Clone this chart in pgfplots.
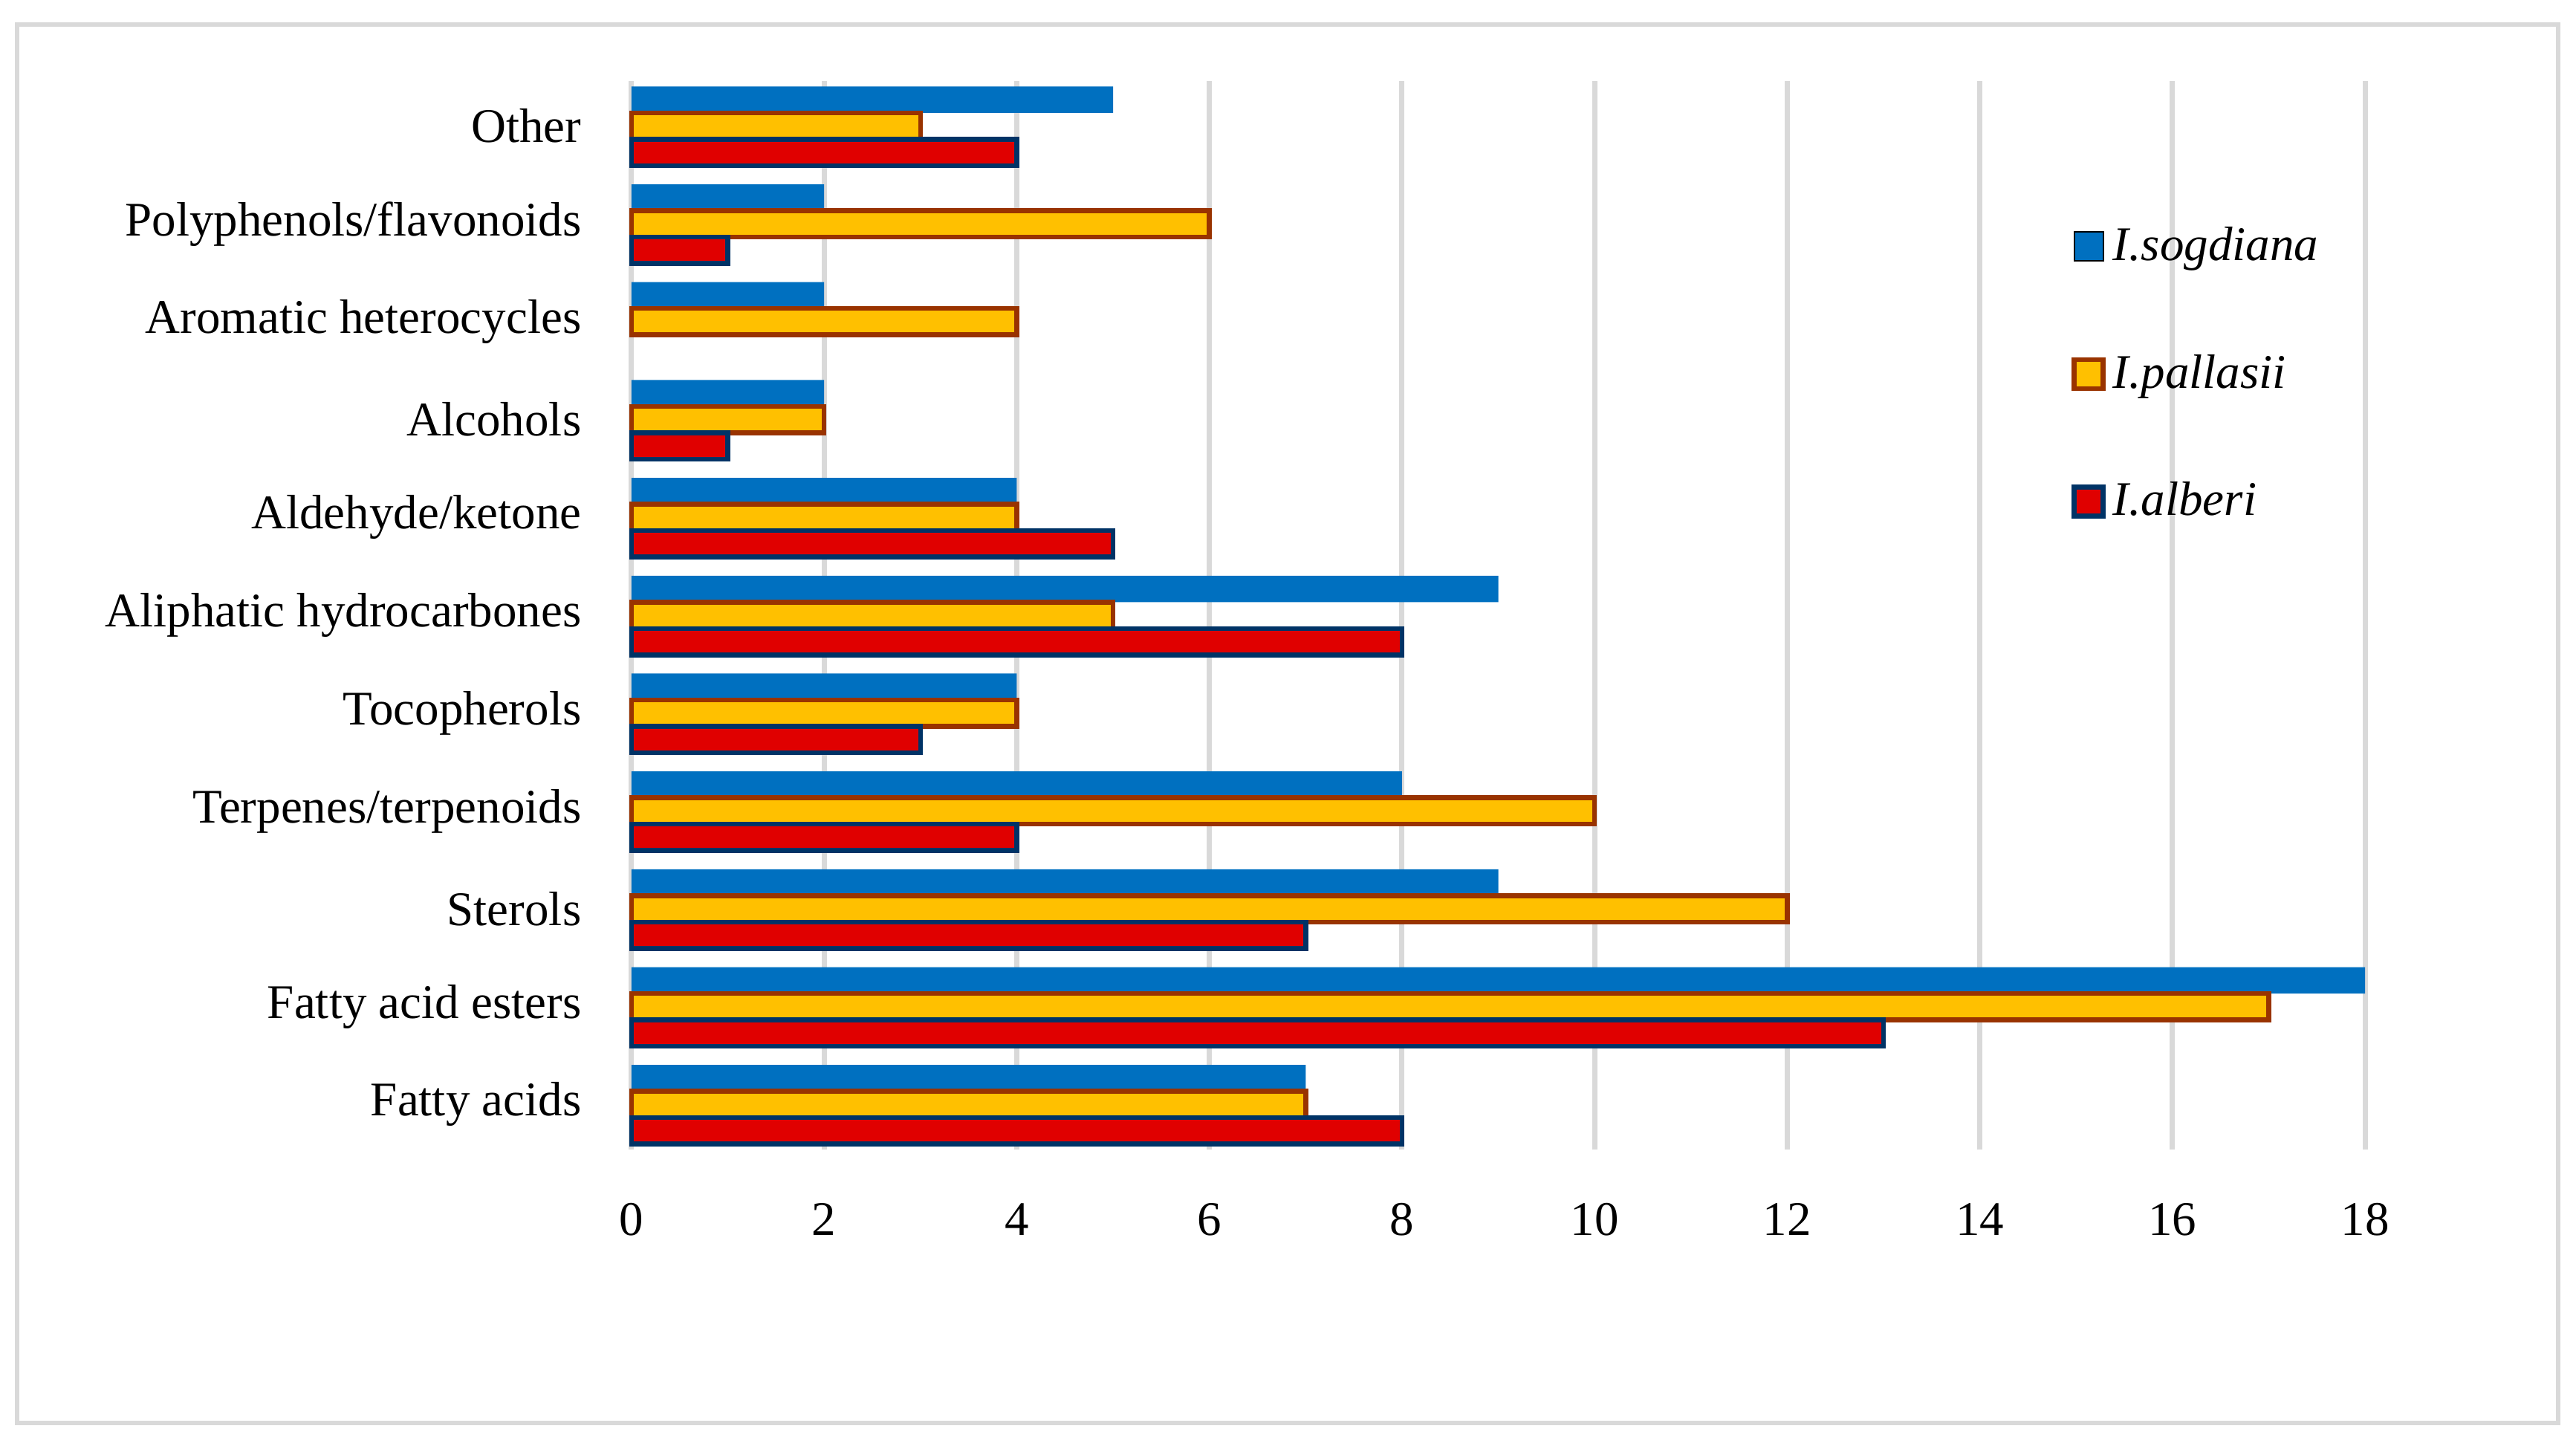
\documentclass[border=0pt]{standalone}
\usepackage{fontspec}
\setmainfont{Liberation Serif}
\usepackage{pgfplots}
\pgfplotsset{compat=1.18}

\definecolor{sogd}{HTML}{0070C0}
\definecolor{pall}{HTML}{FFC000}
\definecolor{palledge}{HTML}{993300}
\definecolor{albe}{HTML}{E00000}
\definecolor{albeedge}{HTML}{003366}
\definecolor{gridgray}{HTML}{D9D9D9}

\begin{document}
\begin{tikzpicture}
\path[use as bounding box] (0,0) rectangle (693.4pt,389pt);
\draw[gridgray, line width=1.2pt] (4.6pt,6pt) rectangle (688.6pt,382.4pt);

\begin{axis}[
    at={(170pt,79.6pt)}, anchor=south west,
    scale only axis, width=466.6pt, height=287.6pt,
    xbar, bar width=7.1pt,
    xmin=0, xmax=18,
    ymin=-0.46, ymax=10.46,
    xtick={0,2,...,18},
    ytick={0,...,10},
    yticklabels={Fatty acids, Fatty acid esters, Sterols, Terpenes/terpenoids,
      Tocopherols, Aliphatic hydrocarbones, Aldehyde/ketone, Alcohols,
      Aromatic heterocycles, Polyphenols/flavonoids, Other},
    xmajorgrids,
    grid style={gridgray, line width=1.4pt},
    axis line style={draw=none},
    major tick length=0pt,
    tick label style={font=\fontsize{13}{15}\selectfont, black},
    xticklabel style={yshift=-11pt},
    yticklabel style={xshift=-10pt},
    /pgf/number format/assume math mode=true,
    clip=false,
    legend cell align=left,
    legend style={at={(rel axis cs:0.824,0.878)}, anchor=north west,
      draw=none, fill=none, row sep=19.8pt,
      font=\fontsize{13}{15}\selectfont\itshape},
    legend image code/.code={\draw[#1] (0pt,-3.9pt) rectangle (7.8pt,3.9pt);},
  ]

% I.sogdiana
\addplot[fill=sogd, draw=none, bar shift=7.1pt] coordinates{
(7,0) (18,1) (9,2) (8,3) (4,4) (9,5) (4,6) (2,7) (2,8) (2,9) (5,10)
};
% I.pallasii
\addplot[fill=pall, draw=palledge, line width=1.3pt, bar shift=0pt] coordinates{
(7,0) (17,1) (12,2) (10,3) (4,4) (5,5) (4,6) (2,7) (4,8) (6,9) (3,10)
};
% I.alberi (no bar for aromatic heterocycles)
\addplot[fill=albe, draw=albeedge, line width=1.3pt, bar shift=-7.1pt] coordinates{
(8,0) (13,1) (7,2) (4,3) (3,4) (8,5) (5,6) (1,7) (1,9) (4,10)
};

\legend{I.sogdiana, I.pallasii, I.alberi}
\end{axis}
\end{tikzpicture}
\end{document}
